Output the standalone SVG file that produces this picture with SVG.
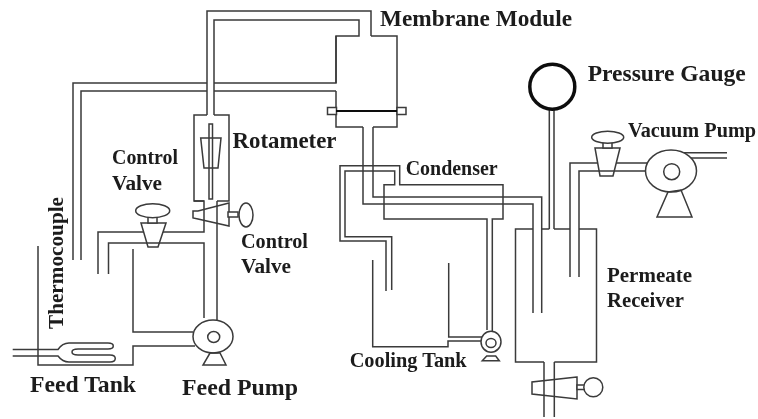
<svg xmlns="http://www.w3.org/2000/svg" width="758" height="419" viewBox="0 0 758 419">
<style>
.l{fill:none;stroke:#3a3a3a;stroke-width:1.5}
.s{fill:#fff;stroke:#3a3a3a;stroke-width:1.5}
text{font-family:"Liberation Serif","Times New Roman",serif;font-weight:bold;fill:#1a1a1a}
</style>
<defs><filter id="b" x="-2%" y="-2%" width="104%" height="104%"><feGaussianBlur stdDeviation="0.35"/></filter></defs>
<rect width="758" height="419" fill="#fff"/>
<g filter="url(#b)">
<g id="connectors">
<path class="l" d="M73 260V83H207M214 83H336V36H359V20H214V115"/>
<path class="l" d="M81 260V91H207M214 91H336"/>
<path class="l" d="M207 115V11H371V36"/>
<path class="l" d="M98 274V232H204V201H194"/>
<path class="l" d="M108.500 274V243H204V318"/>
<path class="l" d="M217 201V320"/>
<path class="l" d="M133 249V332H193"/>
<path class="l" d="M38 246V365H133V346H195"/>
<path class="l" d="M363 127V204H533V313"/>
<path class="l" d="M373 127V197H541.700V313"/>
<path class="l" d="M386 291V241H340V165.700H399.700V184.700H503V219H492.300V332"/>
<path class="l" d="M391.700 290V236.700H345V171H394.700V184.700H384V219H487V330"/>
<path class="l" d="M372.700 260V346.700H448V341H482"/>
<path class="l" d="M448.700 263V337H482"/>
<path class="l" d="M549.300 110V229M554 110V229"/>
<path class="l" d="M570 277V163H647"/>
<path class="l" d="M579 277V171H645"/>
<path class="l" d="M544 362V417M554.300 362V417"/>
<path class="l" d="M683 152.700H727M690 158H727M690 158Q687 159 686 163"/>
</g>
<g id="membrane-module">
<path class="l" d="M336 36V83M371 36H397V127H373M363 127H336V91"/>
<rect class="s" x="327.500" y="107.500" width="9" height="7"/>
<rect class="s" x="397" y="107.500" width="9" height="7"/>
<path d="M336 111H397" fill="none" stroke="#111" stroke-width="2"/>
<text x="380" y="25.500" font-size="23" textLength="192" lengthAdjust="spacingAndGlyphs">Membrane Module</text>
</g>
<g id="rotameter">
<path class="l" d="M204 201H194V115H207M214 115H229V201H217"/>
<path class="l" d="M200.700 138H221L218 168H204Z"/>
<rect class="l" x="209" y="124" width="3.500" height="75"/>
<text x="232.500" y="147.500" font-size="23" textLength="104" lengthAdjust="spacingAndGlyphs">Rotameter</text>
</g>
<g id="control-valve-1">
<path class="s" d="M141 223H166L158 247H148Z"/>
<path class="l" d="M146.500 243H160"/>
<rect class="s" x="148" y="217" width="9" height="6"/>
<ellipse class="s" cx="152.700" cy="210.700" rx="17" ry="7"/>
<text x="112" y="164" font-size="20" textLength="66" lengthAdjust="spacingAndGlyphs">Control</text>
<text x="112" y="190" font-size="20" textLength="50" lengthAdjust="spacingAndGlyphs">Valve</text>
</g>
<g id="control-valve-2">
<path class="l" d="M229 203L198 211H193V218L198 219L229 226Z"/>
<rect class="s" x="228" y="212" width="10" height="5"/>
<ellipse class="s" cx="246" cy="215" rx="7" ry="12"/>
<text x="241" y="248" font-size="20" textLength="67" lengthAdjust="spacingAndGlyphs">Control</text>
<text x="241" y="273" font-size="20" textLength="50" lengthAdjust="spacingAndGlyphs">Valve</text>
</g>
<g id="feed-tank">
<path class="l" d="M12.700 349.500H58C61 345 64 343 69 343H108C115 343 115 349 108 349H78C70 349 70 355 78 355H110C117 355 117 362 110 362H69C64 362 61 360 58 356H12.700"/>
<text x="30" y="392" font-size="23" textLength="106" lengthAdjust="spacingAndGlyphs">Feed Tank</text>
</g>
<g id="thermocouple">
<text transform="translate(63 329) rotate(-90)" font-size="20" textLength="132" lengthAdjust="spacingAndGlyphs">Thermocouple</text>
</g>
<g id="feed-pump">
<ellipse class="s" cx="213" cy="336.500" rx="20" ry="16.500"/>
<ellipse class="l" cx="213.700" cy="337" rx="6" ry="5.500"/>
<path class="l" d="M210 353H220L226 365H203Z"/>
<text x="182" y="395" font-size="24" textLength="116" lengthAdjust="spacingAndGlyphs">Feed Pump</text>
</g>
<g id="condenser">
<text x="405.700" y="175" font-size="20" textLength="92" lengthAdjust="spacingAndGlyphs">Condenser</text>
</g>
<g id="cooling-tank">
<text x="349.700" y="366.700" font-size="20" textLength="117" lengthAdjust="spacingAndGlyphs">Cooling Tank</text>
</g>
<g id="cooling-pump">
<ellipse class="s" cx="491" cy="341.700" rx="10" ry="10.500"/>
<ellipse class="l" cx="491" cy="343" rx="5" ry="4.500"/>
<path class="l" d="M486.700 356H495.700L499.300 360.700H482.300Z"/>
</g>
<g id="pressure-gauge">
<circle cx="552.300" cy="86.700" r="22.500" fill="#fff" stroke="#111" stroke-width="3.500"/>
<text x="587.700" y="81" font-size="23" textLength="158" lengthAdjust="spacingAndGlyphs">Pressure Gauge</text>
</g>
<g id="vacuum-valve">
<path class="s" d="M595 148H620L613 176H600Z"/>
<path class="l" d="M599 171H614"/>
<rect class="s" x="603" y="142" width="9" height="6"/>
<ellipse class="s" cx="607.700" cy="137.300" rx="16" ry="6"/>
</g>
<g id="vacuum-pump">
<ellipse class="s" cx="671" cy="171" rx="25.500" ry="21"/>
<ellipse class="l" cx="671.700" cy="171.700" rx="8" ry="8"/>
<path class="l" d="M668 192L681 190L692 217H657Z"/>
<text x="628" y="136.700" font-size="20" textLength="128" lengthAdjust="spacingAndGlyphs">Vacuum Pump</text>
</g>
<g id="permeate-receiver">
<path class="l" d="M533 229H515.500V362H544M554.300 362H596.500V229H579M570 229H554M549.300 229H541.700"/>
<text x="607" y="281.700" font-size="22" textLength="85" lengthAdjust="spacingAndGlyphs">Permeate</text>
<text x="607" y="307" font-size="21" textLength="77" lengthAdjust="spacingAndGlyphs">Receiver</text>
</g>
<g id="drain-valve">
<path class="l" d="M577 377L532 382V394L577 399Z"/>
<rect class="s" x="577" y="385" width="8" height="4.500"/>
<circle class="s" cx="593.300" cy="387.300" r="9.500"/>
</g>
</g>
</svg>
